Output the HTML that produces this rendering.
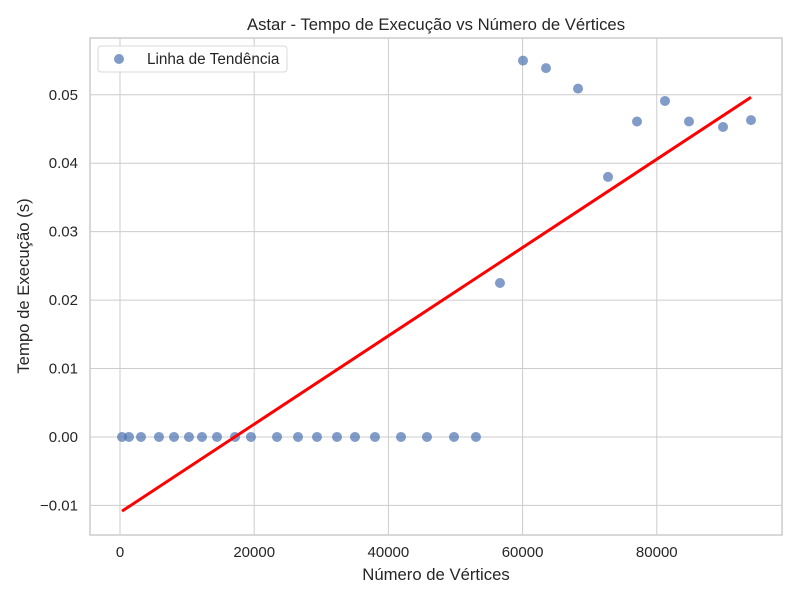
<!DOCTYPE html>
<html><head><meta charset="utf-8"><style>
body{margin:0;background:#fff;font-family:"Liberation Sans","DejaVu Sans",sans-serif;}
svg text{font-family:"Liberation Sans","DejaVu Sans",sans-serif;fill:#262626;}
</style></head><body>
<svg id="chart" width="800" height="600" xmlns="http://www.w3.org/2000/svg"></svg>
<script>
const xVals=[300,1340,3130,5810,8050,10280,12220,14460,17140,19520,23400,26530,29360,32340,35020,38000,41880,45750,49780,53050,56630,60060,63490,68260,72730,77050,81220,84800,89870,94040];
const yVals=[0,0,0,0,0,0,0,0,0,0,0,0,0,0,0,0,0,0,0,0,0.0225,0.0550,0.0539,0.0509,0.0380,0.0461,0.0491,0.0461,0.0453,0.0463];
const xTicks=[0,20000,40000,60000,80000];
const yTicks=[-0.01,0,0.01,0.02,0.03,0.04,0.05];
const yTickLabels=["\u22120.01","0.00","0.01","0.02","0.03","0.04","0.05"];

const L=90,R=782,T=38,B=535;
const xMin=-4470,xMax=98660,yMin=-0.01433,yMax=0.0583;
const sx=v=>L+(v-xMin)/(xMax-xMin)*(R-L);
const sy=v=>B-(v-yMin)/(yMax-yMin)*(B-T);
const svg=document.getElementById('chart');
const NS='http://www.w3.org/2000/svg';
function mk(tag,attrs,parent){const e=document.createElementNS(NS,tag);for(const k in attrs)e.setAttribute(k,attrs[k]);(parent||svg).appendChild(e);return e;}

let e;
e=mk('rect',{x:L,y:T,width:R-L,height:B-T,fill:'#fff'});


xTicks.forEach((t,i)=>{
  e=mk('line',{x1:sx(t),x2:sx(t),y1:T,y2:B,stroke:'#cccccc','stroke-width':1});
  
  
  e=mk('text',{x:sx(t),y:B+22,'text-anchor':'middle','font-size':15});
  e.textContent=t;
  
  
});
yTicks.forEach((t,i)=>{
  e=mk('line',{x1:L,x2:R,y1:sy(t),y2:sy(t),stroke:'#cccccc','stroke-width':1});
  
  
  e=mk('text',{x:L-12,y:sy(t)+5,'text-anchor':'end','font-size':15});
  e.textContent=yTickLabels[i];
  
  
});
e=mk('rect',{x:L,y:T,width:R-L,height:B-T,fill:'none',stroke:'#cccccc','stroke-width':1.5});



xVals.forEach((x,i)=>{
  e=mk('circle',{cx:sx(x),cy:sy(yVals[i]),r:5,fill:'#4c72b0','fill-opacity':0.7});
  
  
});

const n=xVals.length;
const mx=xVals.reduce((a,b)=>a+b,0)/n,my=yVals.reduce((a,b)=>a+b,0)/n;
let num=0,den=0;xVals.forEach((x,i)=>{num+=(x-mx)*(yVals[i]-my);den+=(x-mx)*(x-mx);});
const m=num/den,c=my-m*mx;
const x0=Math.min(...xVals),x1=Math.max(...xVals);
e=mk('line',{x1:sx(x0),y1:sy(m*x0+c),x2:sx(x1),y2:sy(m*x1+c),stroke:'#ff0000','stroke-width':3});



const lg=mk('g',{});


mk('rect',{x:98,y:46,width:189,height:26,rx:3,fill:'#fff','fill-opacity':0.8,stroke:'#d9d9d9'},lg);
e=mk('circle',{cx:119,cy:59,r:5,fill:'#4c72b0','fill-opacity':0.7},lg);


e=mk('text',{x:147,y:64,'font-size':15.3},lg);
e.textContent='Linha de Tendência';



e=mk('text',{x:436,y:30,'text-anchor':'middle','font-size':16.7});
e.textContent='Astar - Tempo de Execução vs Número de Vértices';


e=mk('text',{x:436,y:580,'text-anchor':'middle','font-size':16.7});
e.textContent='Número de Vértices';


e=mk('text',{x:0,y:0,'text-anchor':'middle','font-size':16.7,transform:'translate(29,286) rotate(-90)'});
e.textContent='Tempo de Execução (s)';


</script>
</body></html>
